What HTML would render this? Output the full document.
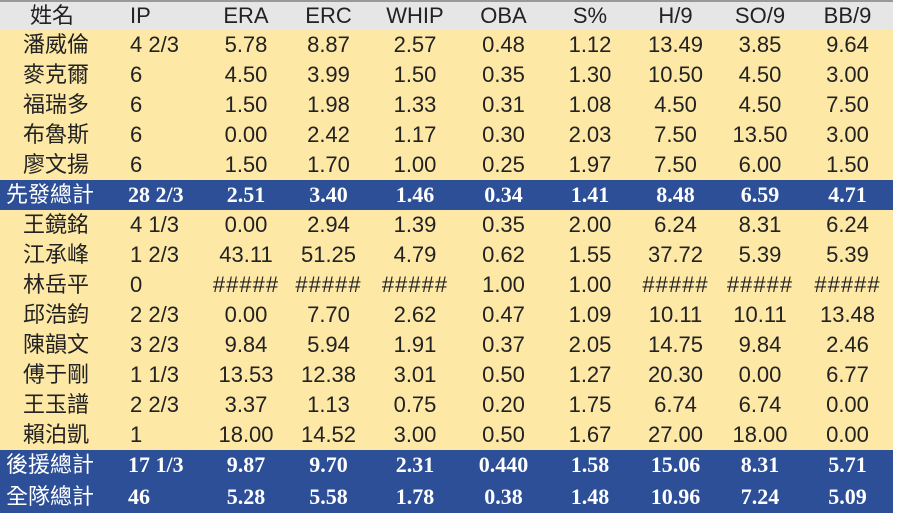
<!DOCTYPE html>
<html><head><meta charset="utf-8"><style>
body{margin:0;width:900px;height:513px;background:#fff;overflow:hidden}
table{position:absolute;left:0;top:0;width:893px;border-collapse:collapse;table-layout:fixed;font-family:"Liberation Sans","Noto Sans CJK TC",sans-serif;font-size:22px;color:#222}
td{height:30px;padding:0;text-align:center;white-space:nowrap;background:#fde8a6;line-height:28px}
td:first-child{text-align:left;padding-left:23px}
td:nth-child(2){text-align:left;padding-left:25px}
tr.h td{background:#e6e6e6;border-top:2px solid #999;height:28px;color:#222}
tr.h td:first-child{padding-left:30px}
tr.t td{background:#2c4f97;color:#fff;font-family:"Liberation Serif","Noto Serif CJK SC",serif;font-weight:bold;font-size:22px}
tr.t td:first-child{font-family:"Liberation Sans","Noto Sans CJK TC",sans-serif;font-weight:normal;font-size:22px;padding-left:6px}
tr.t td:nth-child(2){padding-left:23px}
tr.last td{height:33px}
.x{font-family:"Liberation Sans",sans-serif;font-size:22px;letter-spacing:1px}
</style></head><body>
<table>
<colgroup><col style="width:105px"><col style="width:100px"><col style="width:82px"><col style="width:83px"><col style="width:90px"><col style="width:87px"><col style="width:86px"><col style="width:85px"><col style="width:84px"><col style="width:91px"></colgroup>
<tr class="h"><td>姓名</td><td>IP</td><td>ERA</td><td>ERC</td><td>WHIP</td><td>OBA</td><td>S%</td><td>H/9</td><td>SO/9</td><td>BB/9</td></tr>
<tr><td>潘威倫</td><td>4 2/3</td><td>5.78</td><td>8.87</td><td>2.57</td><td>0.48</td><td>1.12</td><td>13.49</td><td>3.85</td><td>9.64</td></tr>
<tr><td>麥克爾</td><td>6</td><td>4.50</td><td>3.99</td><td>1.50</td><td>0.35</td><td>1.30</td><td>10.50</td><td>4.50</td><td>3.00</td></tr>
<tr><td>福瑞多</td><td>6</td><td>1.50</td><td>1.98</td><td>1.33</td><td>0.31</td><td>1.08</td><td>4.50</td><td>4.50</td><td>7.50</td></tr>
<tr><td>布魯斯</td><td>6</td><td>0.00</td><td>2.42</td><td>1.17</td><td>0.30</td><td>2.03</td><td>7.50</td><td>13.50</td><td>3.00</td></tr>
<tr><td>廖文揚</td><td>6</td><td>1.50</td><td>1.70</td><td>1.00</td><td>0.25</td><td>1.97</td><td>7.50</td><td>6.00</td><td>1.50</td></tr>
<tr class="t"><td>先發總計</td><td>28 2/3</td><td>2.51</td><td>3.40</td><td>1.46</td><td>0.34</td><td>1.41</td><td>8.48</td><td>6.59</td><td>4.71</td></tr>
<tr><td>王鏡銘</td><td>4 1/3</td><td>0.00</td><td>2.94</td><td>1.39</td><td>0.35</td><td>2.00</td><td>6.24</td><td>8.31</td><td>6.24</td></tr>
<tr><td>江承峰</td><td>1 2/3</td><td>43.11</td><td>51.25</td><td>4.79</td><td>0.62</td><td>1.55</td><td>37.72</td><td>5.39</td><td>5.39</td></tr>
<tr><td>林岳平</td><td>0</td><td class="x">#####</td><td class="x">#####</td><td class="x">#####</td><td>1.00</td><td>1.00</td><td class="x">#####</td><td class="x">#####</td><td class="x">#####</td></tr>
<tr><td>邱浩鈞</td><td>2 2/3</td><td>0.00</td><td>7.70</td><td>2.62</td><td>0.47</td><td>1.09</td><td>10.11</td><td>10.11</td><td>13.48</td></tr>
<tr><td>陳韻文</td><td>3 2/3</td><td>9.84</td><td>5.94</td><td>1.91</td><td>0.37</td><td>2.05</td><td>14.75</td><td>9.84</td><td>2.46</td></tr>
<tr><td>傅于剛</td><td>1 1/3</td><td>13.53</td><td>12.38</td><td>3.01</td><td>0.50</td><td>1.27</td><td>20.30</td><td>0.00</td><td>6.77</td></tr>
<tr><td>王玉譜</td><td>2 2/3</td><td>3.37</td><td>1.13</td><td>0.75</td><td>0.20</td><td>1.75</td><td>6.74</td><td>6.74</td><td>0.00</td></tr>
<tr><td>賴泊凱</td><td>1</td><td>18.00</td><td>14.52</td><td>3.00</td><td>0.50</td><td>1.67</td><td>27.00</td><td>18.00</td><td>0.00</td></tr>
<tr class="t"><td>後援總計</td><td>17 1/3</td><td>9.87</td><td>9.70</td><td>2.31</td><td>0.440</td><td>1.58</td><td>15.06</td><td>8.31</td><td>5.71</td></tr>
<tr class="t last"><td>全隊總計</td><td>46</td><td>5.28</td><td>5.58</td><td>1.78</td><td>0.38</td><td>1.48</td><td>10.96</td><td>7.24</td><td>5.09</td></tr>
</table>
</body></html>
